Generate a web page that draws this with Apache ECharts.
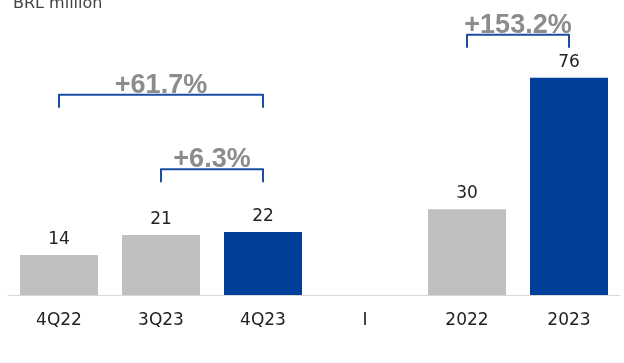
<!DOCTYPE html>
<html>
<head>
<meta charset="utf-8">
<script src="https://cdn.jsdelivr.net/npm/echarts@6/dist/echarts.min.js"></script>
<style>
  html, body { margin: 0; padding: 0; background: #fff; }
  #chart { width: 624px; height: 363px; }
</style>
</head>
<body>
<div id="chart"></div>
<script>
// data
const categories = ['4Q22', '3Q23', '4Q23', 'I', '2022', '2023'];
const values = [14, 21, 22, null, 30, 76];
const highlight = [false, false, true, false, false, true];

// growth brackets
const bracketFrom = ['4Q22', '3Q23', '2022'];
const bracketTo = ['4Q23', '4Q23', '2023'];
const bracketLevel = [70, 44, 91];
const bracketText = ['+61.7%', '+6.3%', '+153.2%'];

const GREY = '#bfbfbf';
const BLUE = '#023f9a';

const chart = echarts.init(document.getElementById('chart'));

const option = {
    animation: false,
    title: {
        text: 'BRL million',
        left: 8,
        top: -9,
        textStyle: { fontFamily: 'DejaVu Sans', fontSize: 16, fontWeight: 'normal', color: '#444' }
    },
    grid: { left: 8, right: 4, top: 9, bottom: 68 },
    xAxis: {
        type: 'category',
        data: categories,
        axisLine: { lineStyle: { color: '#d9d9d9', width: 1 } },
        axisTick: { show: false },
        axisLabel: { fontFamily: 'DejaVu Sans', fontSize: 17, color: '#222', margin: 17 }
    },
    yAxis: { type: 'value', min: 0, max: 100, show: false },
    series: [
        {
            type: 'bar',
            barWidth: 78,
            data: values.map((v, i) => ({
                value: v,
                itemStyle: { color: highlight[i] ? BLUE : GREY }
            })),
            label: {
                show: true,
                position: 'top',
                distance: 7,
                fontFamily: 'DejaVu Sans',
                fontSize: 17,
                color: '#222'
            }
        },
        {
            type: 'custom',
            silent: true,
            encode: { x: 0, y: 1 },
            data: bracketFrom.map((f, i) => [
                categories.indexOf(f), bracketLevel[i], categories.indexOf(bracketTo[i])
            ]),
            renderItem: (params, api) => {
                const y = api.value(1);
                const a = api.coord([api.value(0), y]);
                const b = api.coord([api.value(2), y]);
                const drop = 13;
                return {
                    type: 'group',
                    children: [
                        {
                            type: 'polyline',
                            shape: { points: [[a[0], a[1] + drop], [a[0], a[1]], [b[0], b[1]], [b[0], b[1] + drop]] },
                            style: { stroke: '#1a4ea3', lineWidth: 2, fill: null, lineJoin: 'round' }
                        },
                        {
                            type: 'text',
                            style: {
                                text: bracketText[params.dataIndex],
                                x: (a[0] + b[0]) / 2,
                                y: a[1] + 4,
                                align: 'center',
                                verticalAlign: 'bottom',
                                fontFamily: 'Liberation Sans',
                                fontWeight: 'bold',
                                fontSize: 27,
                                fill: '#8c8c8c'
                            }
                        }
                    ]
                };
            }
        }
    ]
};

chart.setOption(option);
</script>
</body>
</html>
